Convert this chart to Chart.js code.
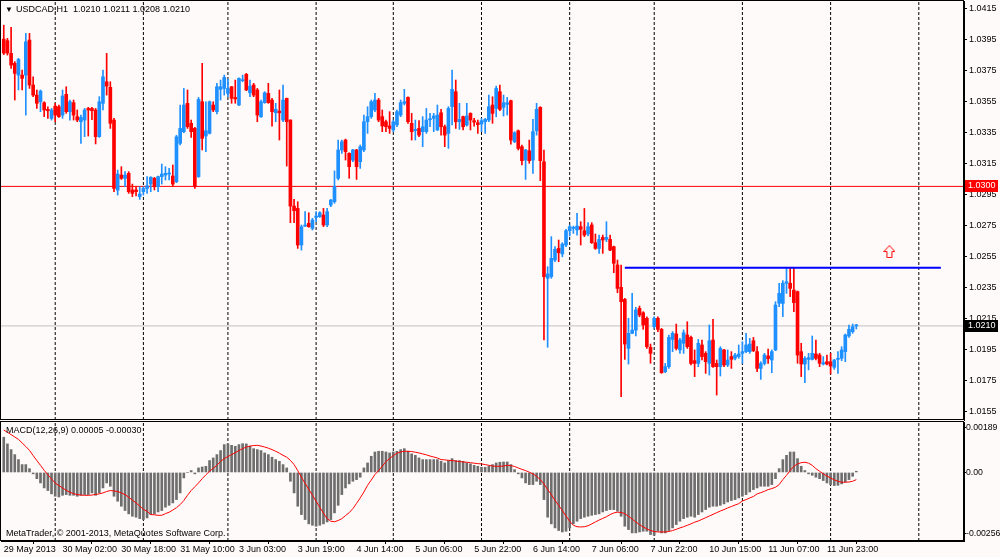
<!DOCTYPE html>
<html>
<head>
<meta charset="utf-8">
<title>USDCAD,H1</title>
<script src="https://cdn.jsdelivr.net/npm/chart.js@4.4.0/dist/chart.umd.min.js"></script>
<style>
  html, body { margin: 0; padding: 0; background: #fffafa; }
  #wrap { position: relative; width: 1000px; height: 557px; overflow: hidden; }
  #main { position: absolute; left: 0; top: 0; }
  #macd { position: absolute; left: 0; top: 421px; }
</style>
</head>
<body>
<div id="wrap">
  <canvas id="main" width="1000" height="421"></canvas>
  <canvas id="macd" width="1000" height="136"></canvas>
</div>
<script>
// ---- data (one entry per H1 bar) ----
const symbol = "USDCAD";
const period = "H1";

const open = [
  1.03950,1.03940,1.03858,1.03794,1.03718,1.03718,1.03718,1.03944,1.03654,1.03589,
  1.03546,1.03540,1.03497,1.03439,1.03518,1.03514,1.03460,1.03594,1.03482,1.03540,
  1.03450,1.03417,1.03428,1.03503,1.03503,1.03493,1.03321,1.03536,1.03675,1.03639,
  1.03428,1.02976,1.03073,1.03052,1.03084,1.02977,1.02977,1.02934,1.02966,1.02987,
  1.03015,1.03052,1.02998,1.03063,1.03073,1.03080,1.03067,1.03030,1.03278,1.03353,
  1.03536,1.03407,1.03374,1.03063,1.03546,1.03325,1.03342,1.03525,1.03482,1.03626,
  1.03632,1.03600,1.03643,1.03574,1.03525,1.03682,1.03723,1.03604,1.03654,1.03622,
  1.03449,1.03540,1.03600,1.03557,1.03475,1.03486,1.03428,1.03568,1.03428,1.02873,
  1.02858,1.02622,1.02744,1.02762,1.02729,1.02800,1.02804,1.02815,1.02751,1.02880,
  1.02901,1.03052,1.03235,1.03299,1.03213,1.03170,1.03235,1.03159,1.03235,1.03417,
  1.03450,1.03493,1.03557,1.03450,1.03417,1.03390,1.03364,1.03397,1.03460,1.03536,
  1.03574,1.03407,1.03360,1.03374,1.03353,1.03353,1.03430,1.03439,1.03364,1.03475,
  1.03385,1.03342,1.03514,1.03611,1.03417,1.03450,1.03396,1.03471,1.03424,1.03411,
  1.03402,1.03417,1.03428,1.03525,1.03503,1.03611,1.03510,1.03529,1.03553,1.03288,
  1.03359,1.03256,1.03170,1.03230,1.03170,1.03359,1.03510,1.03159,1.02407,1.02418,
  1.02525,1.02600,1.02564,1.02622,1.02714,1.02729,1.02719,1.02740,1.02714,1.02693,
  1.02751,1.02637,1.02600,1.02671,1.02658,1.02658,1.02611,1.02493,1.02349,1.02271,
  1.01955,1.02052,1.02073,1.02213,1.02185,1.02149,1.01962,1.02095,1.02149,1.02078,
  1.01805,1.01837,1.02013,1.02048,1.01945,1.01988,1.02041,1.02026,1.01876,1.01858,
  1.01977,1.01923,1.01858,1.02009,1.01858,1.01837,1.01945,1.01848,1.01902,1.01891,
  1.01902,1.01923,1.01934,1.01934,1.02004,1.01934,1.01826,1.01858,1.01906,1.01880,
  1.01945,1.02246,1.02245,1.02375,1.02375,1.02331,1.02321,1.01934,1.01854,1.01884,
  1.01884,1.01919,1.01912,1.01854,1.01869,1.01869,1.01833,1.01884,1.01891,1.01934,
  1.02035,1.02063,1.02100
];
const high = [
  1.04040,1.03955,1.04026,1.03805,1.03826,1.03751,1.03987,1.03987,1.03707,1.03622,
  1.03622,1.03546,1.03514,1.03503,1.03536,1.03525,1.03622,1.03643,1.03557,1.03557,
  1.03493,1.03460,1.03503,1.03510,1.03510,1.03503,1.03579,1.03751,1.03858,1.03675,
  1.03439,1.03105,1.03127,1.03095,1.03095,1.03015,1.02998,1.02998,1.02998,1.03063,
  1.03063,1.03058,1.03067,1.03144,1.03127,1.03116,1.03138,1.03330,1.03525,1.03632,
  1.03622,1.03428,1.03381,1.03574,1.03794,1.03546,1.03551,1.03546,1.03665,1.03686,
  1.03718,1.03690,1.03645,1.03686,1.03701,1.03718,1.03729,1.03686,1.03665,1.03632,
  1.03557,1.03611,1.03665,1.03568,1.03536,1.03622,1.03654,1.03570,1.03430,1.02916,
  1.02901,1.02751,1.02837,1.02830,1.02794,1.02837,1.02837,1.02858,1.02858,1.02916,
  1.03100,1.03299,1.03299,1.03305,1.03217,1.03239,1.03239,1.03267,1.03460,1.03514,
  1.03557,1.03600,1.03568,1.03493,1.03428,1.03482,1.03428,1.03493,1.03557,1.03626,
  1.03578,1.03471,1.03428,1.03424,1.03450,1.03503,1.03471,1.03471,1.03525,1.03497,
  1.03396,1.03514,1.03750,1.03686,1.03536,1.03454,1.03536,1.03475,1.03439,1.03428,
  1.03439,1.03439,1.03589,1.03578,1.03647,1.03654,1.03589,1.03574,1.03557,1.03353,
  1.03364,1.03267,1.03239,1.03299,1.03432,1.03536,1.03514,1.03235,1.02482,1.02676,
  1.02611,1.02654,1.02637,1.02723,1.02751,1.02744,1.02826,1.02772,1.02858,1.02766,
  1.02766,1.02693,1.02686,1.02686,1.02772,1.02686,1.02615,1.02525,1.02493,1.02278,
  1.02149,1.02310,1.02220,1.02228,1.02192,1.02159,1.01983,1.02159,1.02159,1.02084,
  1.01858,1.02041,1.02063,1.02112,1.02020,1.02074,1.02127,1.02035,1.01945,1.02013,
  1.02009,1.01934,1.02106,1.02142,1.01880,1.01966,1.01949,1.01945,1.01934,1.01923,
  1.01977,1.01998,1.02052,1.02020,1.02026,1.01966,1.01869,1.01923,1.01950,1.01945,
  1.02256,1.02375,1.02392,1.02471,1.02471,1.02471,1.02325,1.01988,1.01902,1.01923,
  1.02035,1.02009,1.01923,1.01902,1.01912,1.01923,1.01884,1.01934,1.01966,1.02048,
  1.02106,1.02112,1.02110
];
const low = [
  1.03850,1.03847,1.03761,1.03557,1.03622,1.03622,1.03460,1.03632,1.03579,1.03503,
  1.03482,1.03450,1.03439,1.03428,1.03417,1.03445,1.03439,1.03471,1.03428,1.03428,
  1.03417,1.03278,1.03321,1.03325,1.03430,1.03274,1.03316,1.03493,1.03589,1.03374,
  1.02966,1.02944,1.03045,1.02998,1.02955,1.02934,1.02938,1.02916,1.02944,1.02955,
  1.02966,1.02977,1.02966,1.03015,1.03041,1.03041,1.02998,1.03024,1.03267,1.03346,
  1.03374,1.03316,1.02987,1.03058,1.03235,1.03224,1.03338,1.03482,1.03467,1.03557,
  1.03589,1.03579,1.03536,1.03536,1.03520,1.03675,1.03618,1.03579,1.03579,1.03417,
  1.03445,1.03536,1.03536,1.03389,1.03417,1.03299,1.03417,1.03131,1.02766,1.02766,
  1.02600,1.02589,1.02740,1.02736,1.02719,1.02772,1.02800,1.02740,1.02740,1.02869,
  1.02891,1.03041,1.03213,1.03170,1.03052,1.03159,1.03045,1.03116,1.03224,1.03342,
  1.03439,1.03482,1.03417,1.03353,1.03353,1.03342,1.03353,1.03385,1.03450,1.03525,
  1.03407,1.03299,1.03299,1.03321,1.03256,1.03342,1.03385,1.03353,1.03360,1.03331,
  1.03256,1.03245,1.03396,1.03374,1.03368,1.03364,1.03389,1.03364,1.03389,1.03342,
  1.03353,1.03342,1.03417,1.03407,1.03449,1.03488,1.03454,1.03460,1.03273,1.03282,
  1.03235,1.03138,1.03045,1.03149,1.03084,1.03331,1.03037,1.02009,1.01962,1.02407,
  1.02514,1.02514,1.02546,1.02611,1.02680,1.02697,1.02686,1.02622,1.02676,1.02680,
  1.02632,1.02594,1.02568,1.02568,1.02643,1.02585,1.02443,1.02314,1.01644,1.01884,
  1.01854,1.02050,1.02035,1.02159,1.02078,1.01955,1.01859,1.02084,1.02063,1.01794,
  1.01798,1.01826,1.01934,1.01945,1.01923,1.01923,1.01955,1.01848,1.01773,1.01837,
  1.01880,1.01794,1.01783,1.01833,1.01654,1.01777,1.01837,1.01837,1.01826,1.01880,
  1.01891,1.01858,1.01927,1.01923,1.01934,1.01805,1.01755,1.01848,1.01858,1.01798,
  1.01940,1.02224,1.02160,1.02310,1.02289,1.02192,1.01859,1.01773,1.01734,1.01816,
  1.01880,1.01880,1.01837,1.01848,1.01848,1.01790,1.01820,1.01794,1.01876,1.01869,
  1.02026,1.02052,1.02080
];
const close = [
  1.03860,1.03860,1.03783,1.03729,1.03819,1.03697,1.03933,1.03654,1.03589,1.03536,
  1.03615,1.03493,1.03488,1.03493,1.03460,1.03450,1.03583,1.03482,1.03546,1.03460,
  1.03428,1.03445,1.03493,1.03493,1.03488,1.03321,1.03546,1.03707,1.03647,1.03407,
  1.02987,1.03080,1.03052,1.03073,1.02966,1.02955,1.02966,1.02951,1.02987,1.03004,
  1.03058,1.02998,1.03063,1.03080,1.03084,1.03084,1.03015,1.03320,1.03374,1.03525,
  1.03385,1.03353,1.02998,1.03561,1.03310,1.03359,1.03546,1.03493,1.03643,1.03643,
  1.03703,1.03632,1.03568,1.03564,1.03697,1.03686,1.03622,1.03647,1.03589,1.03460,
  1.03546,1.03604,1.03540,1.03482,1.03497,1.03475,1.03557,1.03417,1.02873,1.02843,
  1.02622,1.02740,1.02751,1.02740,1.02783,1.02809,1.02830,1.02751,1.02837,1.02912,
  1.03000,1.03235,1.03288,1.03224,1.03127,1.03235,1.03127,1.03256,1.03417,1.03450,
  1.03546,1.03557,1.03428,1.03390,1.03385,1.03374,1.03417,1.03482,1.03540,1.03546,
  1.03417,1.03353,1.03368,1.03331,1.03385,1.03428,1.03435,1.03454,1.03460,1.03385,
  1.03331,1.03503,1.03626,1.03417,1.03432,1.03385,1.03454,1.03428,1.03415,1.03398,
  1.03424,1.03432,1.03514,1.03471,1.03632,1.03497,1.03540,1.03540,1.03299,1.03346,
  1.03245,1.03166,1.03235,1.03166,1.03353,1.03497,1.03166,1.02418,1.02435,1.02536,
  1.02594,1.02572,1.02628,1.02714,1.02740,1.02736,1.02744,1.02723,1.02686,1.02740,
  1.02637,1.02600,1.02658,1.02654,1.02671,1.02589,1.02504,1.02342,1.02256,1.01983,
  1.02052,1.02073,1.02203,1.02170,1.02106,1.01966,1.01923,1.02149,1.02078,1.01798,
  1.01837,1.02026,1.02052,1.01955,1.02009,1.02056,1.01966,1.01858,1.01858,1.01988,
  1.01902,1.01869,1.02004,1.01837,1.01837,1.01955,1.01848,1.01880,1.01884,1.01912,
  1.01919,1.01934,1.01977,1.01983,1.01940,1.01826,1.01858,1.01912,1.01889,1.01934,
  1.02235,1.02310,1.02375,1.02385,1.02342,1.02250,1.01912,1.01854,1.01891,1.01895,
  1.01923,1.01891,1.01859,1.01863,1.01854,1.01841,1.01880,1.01891,1.01945,1.02041,
  1.02078,1.02095,1.02100
];

// MACD(12,26,9): main value drawn as histogram, signal as red line
const macdMain = [
  0.00148,0.00120,0.00096,0.00075,0.00054,0.00033,0.00033,0.00016,-0.00006,-0.00026,
  -0.00044,-0.00065,-0.00076,-0.00090,-0.00100,-0.00103,-0.00096,-0.00093,-0.00096,-0.00096,
  -0.00100,-0.00096,-0.00093,-0.00093,-0.00086,-0.00096,-0.00086,-0.00065,-0.00044,-0.00058,
  -0.00100,-0.00121,-0.00142,-0.00160,-0.00174,-0.00184,-0.00188,-0.00194,-0.00198,-0.00191,
  -0.00177,-0.00174,-0.00166,-0.00160,-0.00146,-0.00138,-0.00128,-0.00114,-0.00086,-0.00023,
  0.00000,0.00008,-0.00006,0.00019,0.00023,0.00026,0.00050,0.00061,0.00075,0.00092,
  0.00117,0.00120,0.00114,0.00110,0.00117,0.00121,0.00120,0.00110,0.00100,0.00096,
  0.00092,0.00082,0.00075,0.00064,0.00054,0.00047,0.00033,0.00019,-0.00037,-0.00086,
  -0.00142,-0.00177,-0.00198,-0.00216,-0.00222,-0.00226,-0.00222,-0.00216,-0.00208,-0.00198,
  -0.00170,-0.00138,-0.00093,-0.00065,-0.00048,-0.00037,-0.00030,-0.00020,0.00019,0.00040,
  0.00068,0.00086,0.00089,0.00089,0.00086,0.00082,0.00086,0.00089,0.00096,0.00100,
  0.00089,0.00078,0.00072,0.00061,0.00054,0.00054,0.00054,0.00054,0.00054,0.00047,
  0.00040,0.00050,0.00058,0.00050,0.00050,0.00047,0.00040,0.00036,0.00030,0.00026,
  0.00022,0.00022,0.00026,0.00033,0.00040,0.00043,0.00044,0.00044,0.00033,0.00012,
  -0.00006,-0.00023,-0.00044,-0.00051,-0.00051,-0.00037,-0.00051,-0.00114,-0.00188,-0.00216,
  -0.00233,-0.00244,-0.00250,-0.00247,-0.00233,-0.00216,-0.00205,-0.00194,-0.00188,-0.00184,
  -0.00180,-0.00177,-0.00174,-0.00166,-0.00160,-0.00156,-0.00156,-0.00163,-0.00184,-0.00226,
  -0.00240,-0.00254,-0.00254,-0.00250,-0.00247,-0.00247,-0.00261,-0.00264,-0.00247,-0.00254,
  -0.00254,-0.00244,-0.00233,-0.00219,-0.00205,-0.00194,-0.00188,-0.00184,-0.00188,-0.00177,
  -0.00166,-0.00156,-0.00146,-0.00142,-0.00142,-0.00138,-0.00132,-0.00124,-0.00118,-0.00114,
  -0.00107,-0.00100,-0.00093,-0.00082,-0.00072,-0.00065,-0.00058,-0.00058,-0.00058,-0.00051,
  -0.00026,0.00016,0.00054,0.00072,0.00086,0.00086,0.00058,0.00026,0.00008,-0.00006,
  -0.00012,-0.00020,-0.00026,-0.00034,-0.00044,-0.00051,-0.00055,-0.00054,-0.00048,-0.00040,
  -0.00030,-0.00016,0.00005
];
const macdSignal = [
  0.00178,0.00169,0.00159,0.00149,0.00139,0.00124,0.00109,0.00093,0.00071,0.00050,
  0.00030,0.00009,-0.00010,-0.00027,-0.00045,-0.00055,-0.00065,-0.00075,-0.00083,-0.00089,
  -0.00093,-0.00095,-0.00096,-0.00096,-0.00095,-0.00092,-0.00090,-0.00086,-0.00080,-0.00076,
  -0.00078,-0.00080,-0.00086,-0.00093,-0.00104,-0.00116,-0.00128,-0.00141,-0.00155,-0.00163,
  -0.00177,-0.00178,-0.00180,-0.00180,-0.00173,-0.00167,-0.00158,-0.00148,-0.00135,-0.00118,
  -0.00096,-0.00076,-0.00060,-0.00044,-0.00026,-0.00010,0.00005,0.00018,0.00030,0.00047,
  0.00058,0.00067,0.00075,0.00083,0.00092,0.00100,0.00107,0.00111,0.00113,0.00114,
  0.00111,0.00107,0.00102,0.00096,0.00089,0.00081,0.00072,0.00064,0.00051,0.00033,
  0.00008,-0.00020,-0.00046,-0.00071,-0.00096,-0.00121,-0.00146,-0.00171,-0.00194,-0.00205,
  -0.00207,-0.00202,-0.00194,-0.00181,-0.00169,-0.00152,-0.00130,-0.00107,-0.00082,-0.00054,
  -0.00032,-0.00009,0.00008,0.00026,0.00046,0.00058,0.00071,0.00081,0.00086,0.00089,
  0.00089,0.00088,0.00085,0.00082,0.00078,0.00074,0.00069,0.00065,0.00061,0.00054,
  0.00053,0.00051,0.00050,0.00048,0.00046,0.00044,0.00043,0.00041,0.00039,0.00037,
  0.00036,0.00033,0.00030,0.00027,0.00026,0.00026,0.00027,0.00030,0.00029,0.00025,
  0.00019,0.00013,0.00008,0.00001,-0.00006,-0.00016,-0.00030,-0.00048,-0.00072,-0.00093,
  -0.00117,-0.00138,-0.00160,-0.00183,-0.00205,-0.00222,-0.00228,-0.00229,-0.00228,-0.00224,
  -0.00216,-0.00208,-0.00200,-0.00193,-0.00186,-0.00177,-0.00170,-0.00167,-0.00168,-0.00173,
  -0.00184,-0.00196,-0.00208,-0.00219,-0.00229,-0.00237,-0.00244,-0.00248,-0.00250,-0.00250,
  -0.00250,-0.00248,-0.00244,-0.00239,-0.00233,-0.00228,-0.00222,-0.00216,-0.00209,-0.00204,
  -0.00197,-0.00190,-0.00183,-0.00176,-0.00169,-0.00162,-0.00156,-0.00149,-0.00143,-0.00137,
  -0.00131,-0.00120,-0.00114,-0.00107,-0.00101,-0.00090,-0.00085,-0.00079,-0.00072,-0.00068,
  -0.00062,-0.00051,-0.00030,-0.00012,0.00008,0.00026,0.00036,0.00041,0.00043,0.00039,
  0.00030,0.00016,0.00005,-0.00006,-0.00015,-0.00023,-0.00031,-0.00037,-0.00041,-0.00041,
  -0.00040,-0.00037,-0.00030
];

// time axis: a label every 16 bars, day separators at midnight bars
const labelBars = [0, 16, 32, 48, 64, 80, 96, 112, 128, 144, 160, 176, 192, 208, 224];
const timeLabels = ["29 May 2013", "30 May 02:00", "30 May 18:00", "31 May 10:00", "3 Jun 03:00",
  "3 Jun 19:00", "4 Jun 14:00", "5 Jun 06:00", "5 Jun 22:00", "6 Jun 14:00", "7 Jun 06:00",
  "7 Jun 22:00", "10 Jun 15:00", "11 Jun 07:00", "11 Jun 23:00"];
const separatorBars = [14, 38, 61, 85, 106, 130, 154, 177, 201, 225, 249];

const priceTicks = [1.0415, 1.0395, 1.0375, 1.0355, 1.0335, 1.0315, 1.0295, 1.0275,
  1.0255, 1.0235, 1.0215, 1.0195, 1.0175, 1.0155];
const macdTicks = [0.00189, 0, -0.00256];
const macdTickLabels = ["0.00189", "0.00", "-0.00256"];

// drawn objects
const levelLine = 1.0300;
const bidLine = 1.0210;
const trendLine = { from: 169, to: 255, price: 1.02475 };
const arrowMark = { bar: 241, price: 1.02580 };

// ---- look ----
const BULL = "#1e90ff";
const BEAR = "#ff0000";
const XMIN = -0.75, XMAX = 261.3;
const PMIN = 1.01493, PMAX = 1.04196;
const MMIN = -0.00288, MMAX = 0.00212;
const FONT = '"Liberation Sans", "DejaVu Sans", Arial, sans-serif';

Chart.defaults.font.family = FONT;
Chart.defaults.font.size = 9;
Chart.defaults.color = "#000";

const candleColor = close.map((c, i) => (c >= open[i] ? BULL : BEAR));

function separators(y0, y1) {
  return separatorBars.map(b => ({
    type: "line",
    data: [{ x: b, y: y0 }, { x: b, y: y1 }],
    borderColor: "#000",
    borderWidth: 1,
    borderDash: [3, 2],
    pointRadius: 0,
    order: 10
  }));
}

function hline(x0, x1, y, color, width, order) {
  return {
    type: "line",
    data: [{ x: x0, y: y }, { x: x1, y: y }],
    borderColor: color,
    borderWidth: width,
    pointRadius: 0,
    order: order
  };
}

// outlined up arrow used as point style
const arrowImg = document.createElement("canvas");
arrowImg.width = 12;
arrowImg.height = 13;
(function () {
  const c = arrowImg.getContext("2d");
  c.strokeStyle = "#ff0000";
  c.lineWidth = 1;
  c.beginPath();
  c.moveTo(6, 0.5);
  c.lineTo(11.5, 6.5);
  c.lineTo(8.5, 6.5);
  c.lineTo(8.5, 12.5);
  c.lineTo(3.5, 12.5);
  c.lineTo(3.5, 6.5);
  c.lineTo(0.5, 6.5);
  c.closePath();
  c.stroke();
})();

// fixed axis size, no extra room for the end labels
function fixedWidth(w) {
  return function (axis) {
    axis.width = w;
    axis.paddingTop = 0;
    axis.paddingBottom = 0;
  };
}

const mainText = {
  id: "mainText",
  afterDraw(chart) {
    const { ctx, chartArea: a, scales } = chart;
    ctx.save();
    ctx.strokeStyle = "#000";
    ctx.lineWidth = 1;
    ctx.strokeRect(a.left - 0.5, a.top - 0.5, a.right - a.left, a.bottom - a.top);

    // price tags on the axis
    const tag = (value, bg) => {
      const py = Math.round(scales.y.getPixelForValue(value));
      ctx.fillStyle = bg;
      ctx.fillRect(a.right + 1, py - 6, 33, 12);
      ctx.fillStyle = "#fff";
      ctx.font = "9px " + FONT;
      ctx.textAlign = "left";
      ctx.textBaseline = "middle";
      ctx.fillText(value.toFixed(4), a.right + 4, py);
    };
    tag(levelLine, "#ff0000");
    tag(bidLine, "#000000");

    // title
    const n = close.length - 1;
    ctx.fillStyle = "#000";
    ctx.font = "8px " + FONT;
    ctx.textBaseline = "middle";
    ctx.fillText("\u25BC", 5, 10);
    ctx.font = "9px " + FONT;
    ctx.fillText(symbol + "," + period, 16, 10);
    ctx.fillText([open[n], high[n], low[n], close[n]].map(v => v.toFixed(4)).join(" "), 73, 10);
    ctx.restore();
  }
};

new Chart(document.getElementById("main"), {
  type: "bar",
  data: {
    datasets: [
      ...separators(PMIN, PMAX),
      hline(XMIN, XMAX, levelLine, "#ff0000", 1, 8),
      hline(XMIN, XMAX, bidLine, "#c0c0c0", 1, 8),
      {
        type: "bar",
        data: low.map((l, i) => ({ x: i, y: [l, high[i]] })),
        backgroundColor: candleColor,
        barThickness: 1,
        grouped: false,
        order: 5
      },
      {
        type: "bar",
        data: open.map((o, i) => ({ x: i, y: [o, close[i]] })),
        backgroundColor: candleColor,
        barThickness: 3,
        minBarLength: 1,
        grouped: false,
        order: 4
      },
      hline(trendLine.from, trendLine.to, trendLine.price, "#0000ff", 2, 2),
      {
        type: "line",
        data: [{ x: arrowMark.bar, y: arrowMark.price }],
        showLine: false,
        pointStyle: arrowImg,
        pointRadius: 6,
        order: 1
      }
    ]
  },
  options: {
    responsive: false,
    animation: false,
    layout: { autoPadding: false, padding: { left: 1, top: 1, right: 0, bottom: 1 } },
    plugins: { legend: { display: false }, tooltip: { enabled: false } },
    scales: {
      x: { type: "linear", min: XMIN, max: XMAX, offset: false, display: false },
      y: {
        position: "right",
        min: PMIN,
        max: PMAX,
        afterFit: fixedWidth(36),
        afterBuildTicks: axis => { axis.ticks = priceTicks.map(v => ({ value: v })); },
        ticks: { padding: 2, callback: v => v.toFixed(4) },
        grid: { drawOnChartArea: false, drawTicks: true, tickLength: 3, color: "#000" },
        border: { display: true, color: "#000" }
      }
    }
  },
  plugins: [mainText]
});

const macdText = {
  id: "macdText",
  afterDraw(chart) {
    const { ctx, chartArea: a } = chart;
    const n = macdMain.length - 1;
    ctx.save();
    ctx.strokeStyle = "#000";
    ctx.lineWidth = 1;
    ctx.strokeRect(a.left - 0.5, a.top - 0.5, a.right - a.left, a.bottom - a.top);
    ctx.fillStyle = "#000";
    ctx.font = "9px " + FONT;
    ctx.textAlign = "left";
    ctx.textBaseline = "middle";
    ctx.fillText("MACD(12,26,9) " + macdMain[n].toFixed(5) + " " + macdSignal[n].toFixed(5), 6, 10);
    ctx.fillText("MetaTrader, \u00A9 2001-2013, MetaQuotes Software Corp.", 6, 113);
    ctx.restore();
  }
};

new Chart(document.getElementById("macd"), {
  type: "bar",
  data: {
    datasets: [
      ...separators(MMIN, MMAX),
      {
        type: "bar",
        data: macdMain.map((v, i) => ({ x: i, y: v })),
        backgroundColor: "#6e6e6e",
        barThickness: 2,
        grouped: false,
        order: 5
      },
      {
        type: "line",
        data: macdSignal.map((v, i) => ({ x: i, y: v })),
        borderColor: "#ff0000",
        borderWidth: 1,
        pointRadius: 0,
        tension: 0,
        order: 2
      }
    ]
  },
  options: {
    responsive: false,
    animation: false,
    layout: { autoPadding: false, padding: { left: 1, top: 1, right: 0, bottom: 0 } },
    plugins: { legend: { display: false }, tooltip: { enabled: false } },
    scales: {
      x: {
        type: "linear",
        min: XMIN,
        max: XMAX,
        offset: false,
        afterFit: axis => { axis.height = 16; axis.paddingLeft = 0; axis.paddingRight = 0; },
        afterBuildTicks: axis => { axis.ticks = labelBars.map(v => ({ value: v })); },
        ticks: {
          autoSkip: false,
          maxRotation: 0,
          align: "start",
          padding: 0,
          callback: (v, i) => timeLabels[i]
        },
        grid: { drawOnChartArea: false, drawTicks: true, tickLength: 3, color: "#000" },
        border: { display: true, color: "#000" }
      },
      y: {
        position: "right",
        min: MMIN,
        max: MMAX,
        afterFit: fixedWidth(36),
        afterBuildTicks: axis => { axis.ticks = macdTicks.map(v => ({ value: v })); },
        ticks: { padding: 0, font: { size: 8.7 }, callback: (v, i) => macdTickLabels[i] },
        grid: { drawOnChartArea: false, drawTicks: true, tickLength: 2, color: "#000" },
        border: { display: true, color: "#000" }
      }
    }
  },
  plugins: [macdText]
});
</script>
</body>
</html>
